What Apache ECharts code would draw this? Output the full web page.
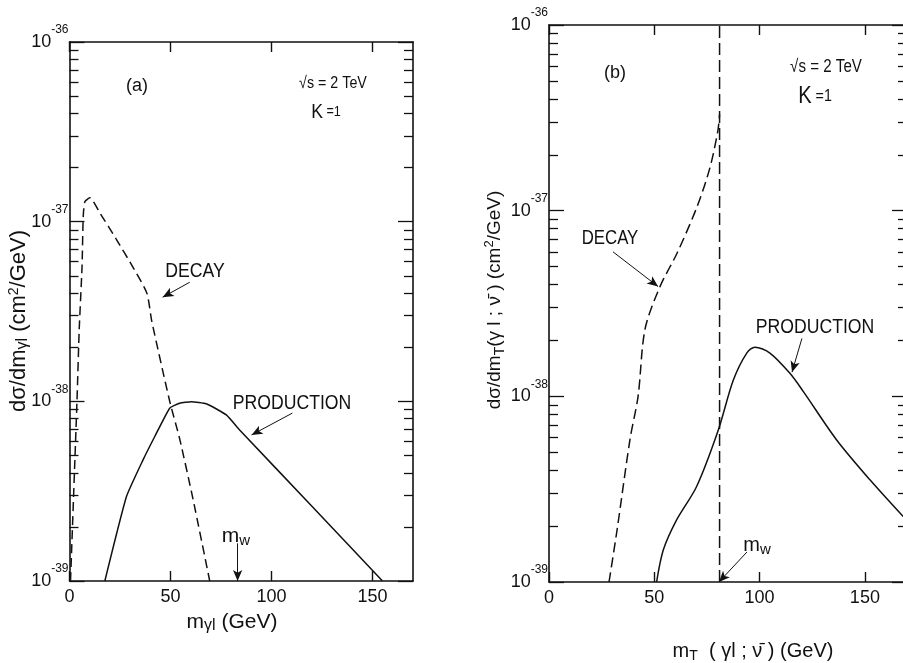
<!DOCTYPE html>
<html><head><meta charset="utf-8">
<script src="https://cdn.jsdelivr.net/npm/echarts@6/dist/echarts.min.js"></script>
<style>html,body{margin:0;padding:0;background:#fff}#c{width:903px;height:663px}</style>
</head><body><div id="c"></div>
<script>
// ---------- data, y in cm^2/GeV ----------
const xTickValues = [0, 50, 100, 150];
const yDecades = [1e-39, 1e-38, 1e-37, 1e-36];
const minorMultipliers = [2, 3, 4, 5, 6, 7, 8, 9];

// Panel (a): m_{γl}
const decayA_x = [0.5, 3.7, 4.8, 6.2, 6.8, 7.6, 10.1, 15.0, 23.4, 31.3, 38.3, 40.7, 49.6, 54.5, 61.0, 69.4];
const decayA_y = [1e-39, 1e-38, 2.5e-38, 5.6e-38, 1.07e-37, 1.29e-37, 1.36e-37, 1.12e-37, 7.9e-38, 5.6e-38, 4.0e-38, 2.8e-38, 1.0e-38, 6.2e-39, 2.9e-39, 1e-39];
const prodA_x = [17.5, 28.2, 36.4, 42.2, 49.6, 54.5, 60.3, 67.7, 77.6, 84.2, 119.5, 154.9];
const prodA_y = [1e-39, 2.95e-39, 4.72e-39, 6.37e-39, 9.16e-39, 9.76e-39, 9.96e-39, 9.7e-39, 8.4e-39, 6.93e-39, 2.64e-39, 1e-39];

// Panel (b): m_T(γl; ν̄)
const decayB_x = [28.5, 32.3, 38.5, 42.3, 45.6, 52.7, 60.8, 70.3, 76.4, 80.2, 81.0];
const decayB_y = [1e-39, 1.9e-39, 5.9e-39, 1.0e-38, 2.3e-38, 3.9e-38, 5.9e-38, 1.05e-37, 1.7e-37, 2.7e-37, 3.3e-37];
const prodB_x = [51.1, 54.3, 60.6, 70.1, 80.4, 87.5, 93.9, 97.8, 104.9, 114.4, 120.8, 136.6, 152.4, 168.2];
const prodB_y = [1e-39, 1.49e-39, 2.16e-39, 3.27e-39, 6.59e-39, 1.22e-38, 1.71e-38, 1.84e-38, 1.71e-38, 1.33e-38, 1.06e-38, 5.82e-39, 3.55e-39, 2.25e-39];
const mwLineB_x = [81, 81];
const mwLineB_y = [1e-39, 1e-36];

// annotation arrows [from, to] in data coordinates
const arrowsA = [
  [[59.5, 4.6e-38], [46.1, 3.8e-38]],   // DECAY
  [[110.3, 8.6e-39], [90.1, 6.5e-39]],  // PRODUCTION
  [[83.2, 1.62e-39], [83.2, 1.0e-39]]   // m_w
];
const arrowsB = [
  [[30.4, 6.0e-38], [51.8, 3.9e-38]],
  [[120.1, 2.05e-38], [115.4, 1.35e-38]],
  [[94.0, 1.45e-39], [80.7, 1.0e-39]]
];

// ---------- helpers ----------
// The log axis is drawn in units of 1e-39 cm^2/GeV (ECharts' log scale loses precision near 1e-39).
const UNIT = 1e-39;
const u = v => Math.round(v / UNIT * 1e6) / 1e6;
const pairs = (xs, ys) => xs.map((x, i) => [x, u(ys[i])]);
const majorU = yDecades.map(u);
const minorU = [];
yDecades.slice(0, 3).forEach(d => minorMultipliers.forEach(m => minorU.push(u(m * d))));
let LOGSPACE = false;
const tv = arr => LOGSPACE ? arr.map(v => Math.log10(v)) : arr;

const FONT = "'Liberation Sans', Arial, sans-serif";
const BLACK = '#111';

function xAx(grid, pos, labels) {
  return {
    type: 'value', gridIndex: grid, position: pos, min: 0, max: 170,
    axisLine: { show: true, onZero: false, lineStyle: { color: BLACK, width: 1.6 } },
    axisTick: { show: true, inside: true, length: 10, customValues: xTickValues, lineStyle: { color: BLACK, width: 1.4 } },
    axisLabel: { show: labels, customValues: xTickValues, color: BLACK, fontSize: 18, fontFamily: FONT, margin: 7 },
    splitLine: { show: false }
  };
}
function expOf(v) {
  const e = LOGSPACE && v < 10 ? Math.round(v) : Math.round(Math.log10(v));
  return e - 39;
}
function yAx(grid, pos, major, labels) {
  return {
    type: 'log', logBase: 10, gridIndex: grid, position: pos, min: 1, max: 1000,
    axisLine: { show: major, onZero: false, lineStyle: { color: BLACK, width: 1.6 } },
    axisTick: { show: true, inside: true, length: major ? 15 : 9, customValues: tv(major ? majorU : minorU),
                lineStyle: { color: BLACK, width: 1.3 } },
    axisLabel: {
      show: labels, customValues: tv(majorU), margin: 1,
      formatter: v => '{b|10}{s|-' + Math.abs(expOf(v)) + '}',
      rich: {
        b: { fontSize: 18, fontFamily: FONT, color: BLACK, lineHeight: 36, verticalAlign: 'middle' },
        s: { fontSize: 12, fontFamily: FONT, color: BLACK, lineHeight: 12, verticalAlign: 'top' }
      }
    },
    splitLine: { show: false }, minorTick: { show: false }
  };
}
function arrowML(list) {
  return {
    silent: true, symbol: ['none', 'arrow'], symbolSize: [7, 11], animation: false,
    lineStyle: { color: BLACK, width: 1, type: 'solid' }, label: { show: false },
    emphasis: { disabled: true },
    data: list.map(a => [{ coord: [a[0][0], u(a[0][1])] }, { coord: [a[1][0], u(a[1][1])] }])
  };
}
function txt(x, y, text, rich, opts) {
  return Object.assign({
    type: 'text', x: x, y: y, silent: true,
    style: { text: text, rich: rich, align: 'center', verticalAlign: 'middle', fill: BLACK,
             font: '18px ' + FONT }
  }, opts || {});
}
const T = (size) => ({ fontSize: size, fontFamily: FONT, color: BLACK, lineHeight: 24 });
const SUB = (size) => ({ fontSize: size, fontFamily: FONT, color: BLACK, lineHeight: 12, verticalAlign: 'bottom' });
const SUP = (size) => ({ fontSize: size, fontFamily: FONT, color: BLACK, lineHeight: 12, verticalAlign: 'top' });
const NARROWX = { scaleX: 0.84 };

function build() {
  return {
    animation: false,
    backgroundColor: '#fff',
    grid: [
      { left: 69.5, top: 42, width: 343.5, height: 539, outerBoundsMode: 'none', containLabel: false },
      { left: 549, top: 25, width: 358, height: 557, outerBoundsMode: 'none', containLabel: false }
    ],
    xAxis: [xAx(0, 'bottom', true), xAx(0, 'top', false), xAx(1, 'bottom', true), xAx(1, 'top', false)],
    yAxis: [
      yAx(0, 'left', true, true), yAx(0, 'left', false, false),
      yAx(0, 'right', true, false), yAx(0, 'right', false, false),
      yAx(1, 'left', true, true), yAx(1, 'left', false, false),
      yAx(1, 'right', true, false), yAx(1, 'right', false, false)
    ],
    series: [
      { name: 'DECAY (a)', type: 'line', xAxisIndex: 0, yAxisIndex: 0, data: pairs(decayA_x, decayA_y),
        showSymbol: false, smooth: 0.2, lineStyle: { color: BLACK, width: 1.5, type: [9, 5] } },
      { name: 'PRODUCTION (a)', type: 'line', xAxisIndex: 0, yAxisIndex: 0, data: pairs(prodA_x, prodA_y),
        showSymbol: false, smooth: 0.15, lineStyle: { color: BLACK, width: 1.5 }, markLine: arrowML(arrowsA) },
      { name: 'DECAY (b)', type: 'line', xAxisIndex: 2, yAxisIndex: 4, data: pairs(decayB_x, decayB_y),
        showSymbol: false, smooth: 0.3, lineStyle: { color: BLACK, width: 1.5, type: [10, 5] } },
      { name: 'm_W (b)', type: 'line', xAxisIndex: 2, yAxisIndex: 4, data: pairs(mwLineB_x, mwLineB_y),
        showSymbol: false, lineStyle: { color: BLACK, width: 1.5, type: [12, 5] } },
      { name: 'PRODUCTION (b)', type: 'line', xAxisIndex: 2, yAxisIndex: 4, data: pairs(prodB_x, prodB_y),
        showSymbol: false, smooth: 0.3, lineStyle: { color: BLACK, width: 1.5 }, markLine: arrowML(arrowsB) }
    ],
    graphic: [
      // panel (a)
      txt(137, 86, '{t|(a)}', { t: T(18) }),
      txt(333, 83, '{t|\u221As = 2 TeV}', { t: T(17) }, NARROWX),
      txt(326, 112, '{k|K}{t| =1}', { k: T(21), t: { fontSize: 15, fontFamily: FONT, color: BLACK, lineHeight: 24 } }, NARROWX),
      txt(195, 271, '{t|DECAY}', { t: T(21) }, NARROWX),
      txt(292, 403, '{t|PRODUCTION}', { t: T(21) }, NARROWX),
      txt(236, 536, '{t|m}{s|w}', { t: T(21), s: SUB(15) }),
      txt(232, 622, '{t|m}{s|\u03B3l}{t| (GeV)}', { t: T(21), s: SUB(16) }),
      txt(19, 321, '{t|d\u03C3/dm}{s|\u03B3l}{t| (cm}{p|2}{t|/GeV)}', { t: T(22), s: SUB(16), p: SUP(14) },
          { rotation: Math.PI / 2 }),
      // panel (b)
      txt(615, 73, '{t|(b)}', { t: T(18) }),
      txt(826, 67, '{t|\u221As = 2 TeV}', { t: T(18) }, NARROWX),
      txt(815, 96, '{k|K}{t| =1}', { k: T(24), t: { fontSize: 17, fontFamily: FONT, color: BLACK, lineHeight: 24 } }, NARROWX),
      txt(610, 238, '{t|DECAY}', { t: T(20) }, NARROWX),
      txt(815, 327, '{t|PRODUCTION}', { t: T(21) }, NARROWX),
      txt(757, 545, '{t|m}{s|w}', { t: T(20), s: SUB(15) }),
      txt(753, 651, '{t|m}{s|T}{t|  ( \u03B3l ; \u03BD\u0304 ) (GeV)}', { t: T(20), s: SUB(14) }),
      txt(495, 300, '{t|d\u03C3/dm}{s|T}{t|(\u03B3 l ; \u03BD\u0304 ) (cm}{p|2}{t|/GeV)}', { t: T(19), s: SUB(14), p: SUP(13) },
          { rotation: Math.PI / 2 })
    ]
  };
}

const chart = echarts.init(document.getElementById('c'), null, { renderer: 'canvas' });
chart.setOption(build());
// If custom tick values are expected in the log axis' internal space, rebuild with log10 values.
try {
  const ax = chart.getModel().getComponent('yAxis', 0).axis;
  if (ax.getTicksCoords().length === 0) {
    LOGSPACE = true;
    chart.setOption(build(), true);
  }
} catch (e) {}
</script></body></html>
